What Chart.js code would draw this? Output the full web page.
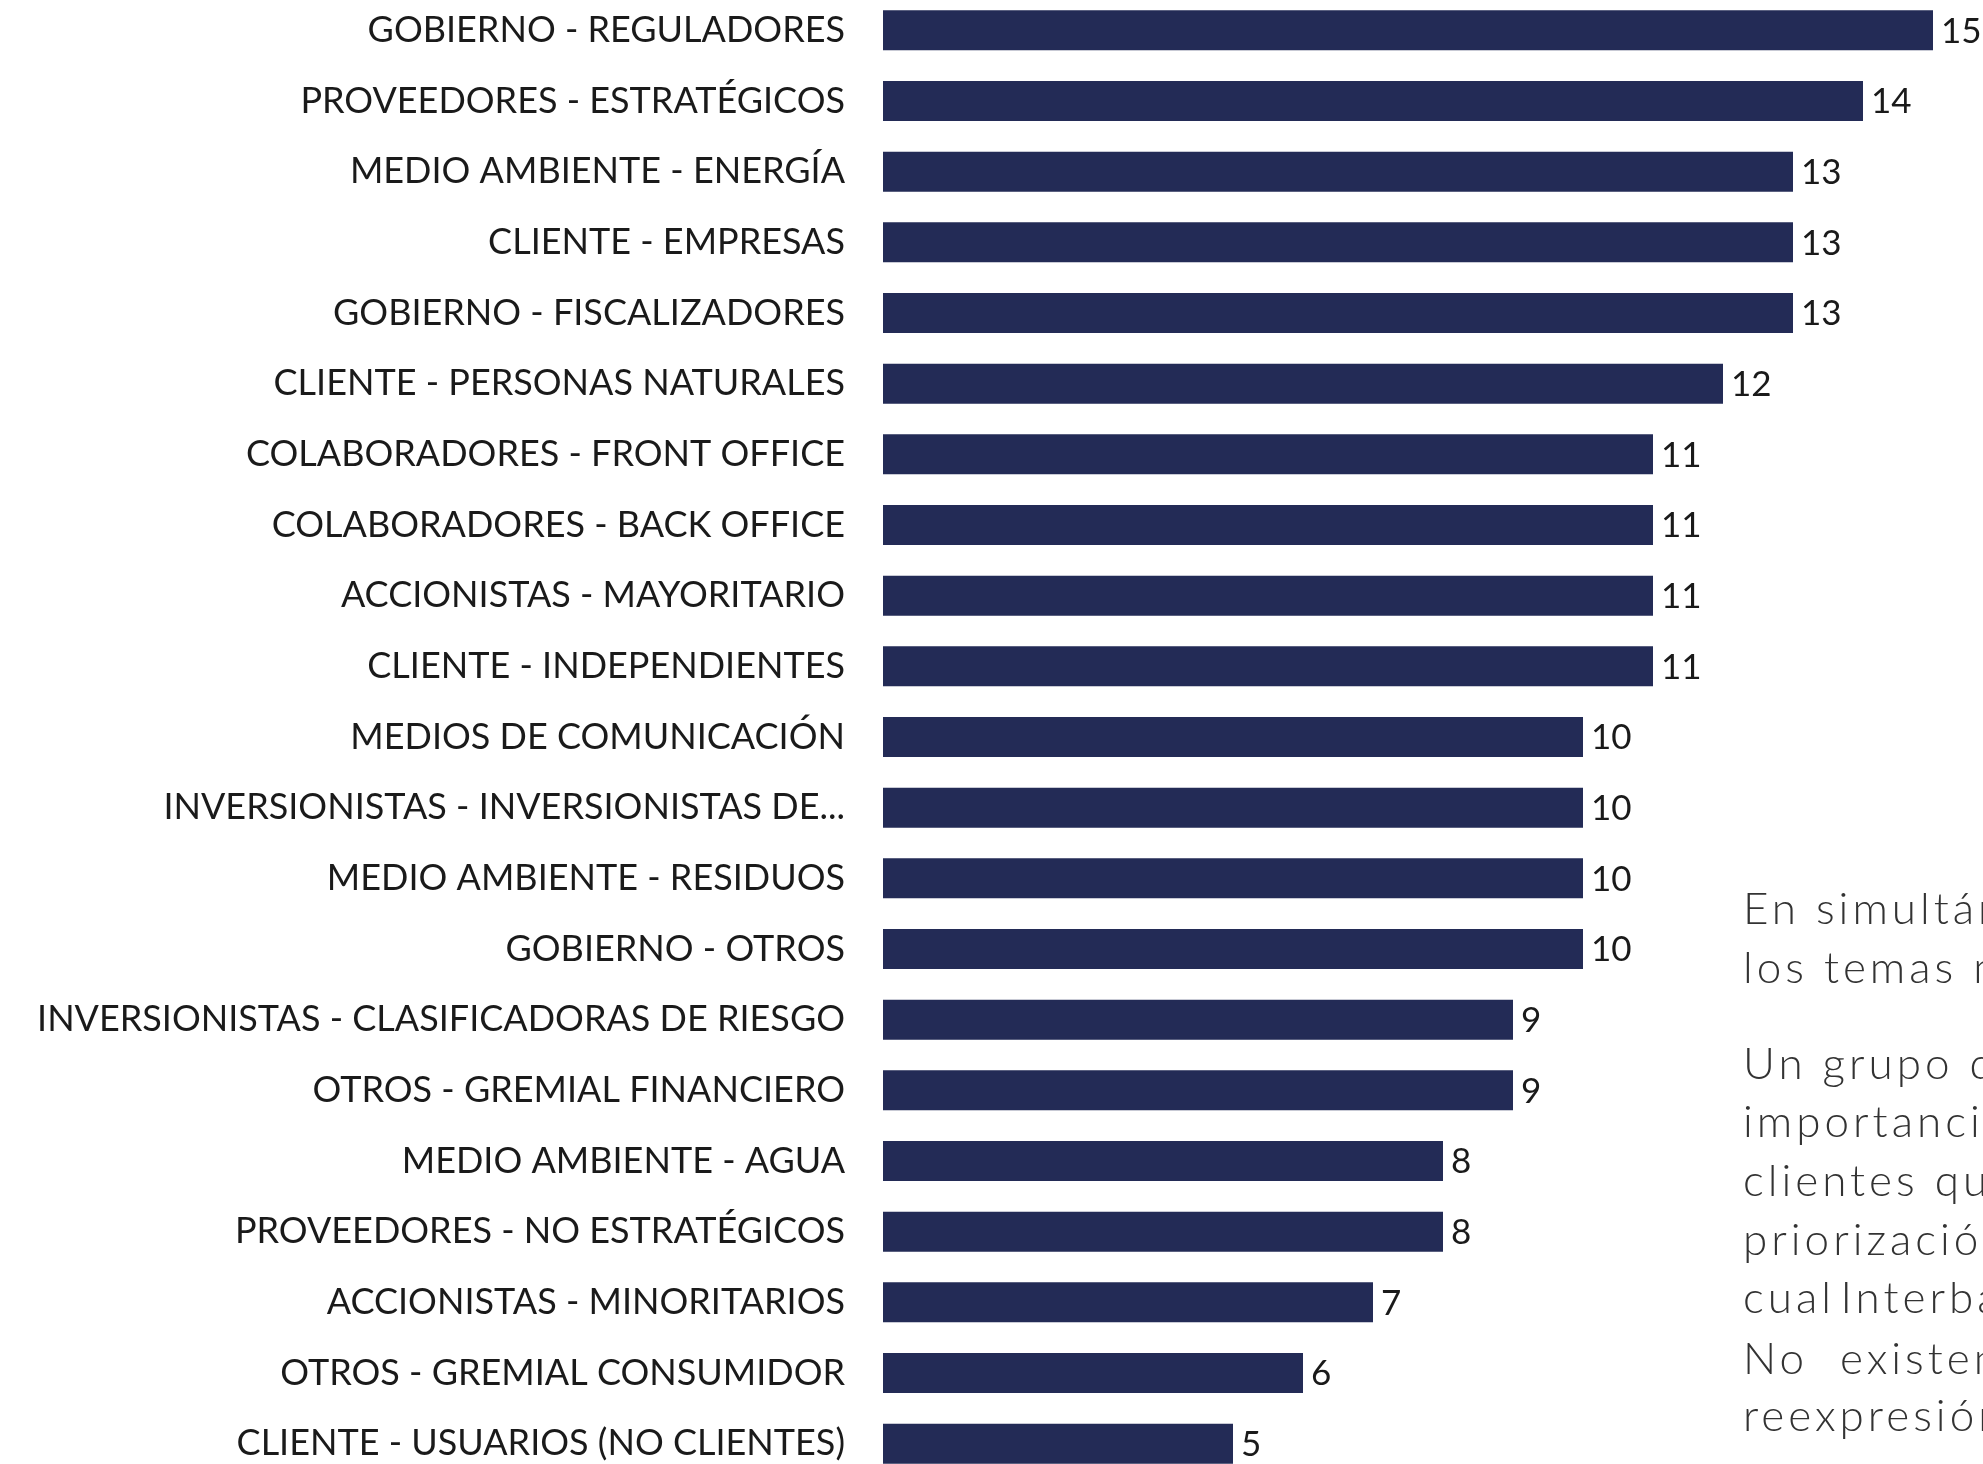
<!DOCTYPE html>
<html>
<head>
<meta charset="utf-8">
<script src="https://cdn.jsdelivr.net/npm/chart.js@4.4.1/dist/chart.umd.min.js"></script>
<style>
    html, body { margin: 0; padding: 0; background: #fff; overflow: hidden; }
    body { width: 1983px; height: 1464px; position: relative; }
    #wrap { position: absolute; left: 0; top: -5px; width: 1983px; height: 1484px; }
    #side {
        position: absolute; left: 1743px; top: 0; width: 240px; height: 1464px; overflow: hidden;
        font-family: Lato, sans-serif; font-weight: 300; font-size: 44px; letter-spacing: 4px; color: #333;
    }
    #side div { position: absolute; left: 0; white-space: nowrap; line-height: 44px; transform: translateY(-50%); }
</style>
</head>
<body>
<div id="wrap"><canvas id="stakeChart"></canvas></div>
<div id="side">
    <div style="top:907px">En simultáneo se</div>
    <div style="top:966px">los temas materiales</div>
    <div style="top:1062px">Un grupo de</div>
    <div style="top:1120px">importancia</div>
    <div style="top:1179px">clientes que</div>
    <div style="top:1238px">priorización</div>
    <div style="top:1296px" class="tight">cual<span style="letter-spacing:0">&#8201;</span>Interbank</div>
    <div style="top:1357px">No&nbsp;&nbsp;existen</div>
    <div style="top:1414px">reexpresión</div>
</div>
<script>
const categories = [
    'GOBIERNO - REGULADORES',
    'PROVEEDORES - ESTRATÉGICOS',
    'MEDIO AMBIENTE - ENERGÍA',
    'CLIENTE - EMPRESAS',
    'GOBIERNO - FISCALIZADORES',
    'CLIENTE - PERSONAS NATURALES',
    'COLABORADORES - FRONT OFFICE',
    'COLABORADORES - BACK OFFICE',
    'ACCIONISTAS - MAYORITARIO',
    'CLIENTE - INDEPENDIENTES',
    'MEDIOS DE COMUNICACIÓN',
    'INVERSIONISTAS - INVERSIONISTAS DE...',
    'MEDIO AMBIENTE - RESIDUOS',
    'GOBIERNO - OTROS',
    'INVERSIONISTAS - CLASIFICADORAS DE RIESGO',
    'OTROS - GREMIAL FINANCIERO',
    'MEDIO AMBIENTE - AGUA',
    'PROVEEDORES - NO ESTRATÉGICOS',
    'ACCIONISTAS - MINORITARIOS',
    'OTROS - GREMIAL CONSUMIDOR',
    'CLIENTE - USUARIOS (NO CLIENTES)'
]
const scores = [15, 14, 13, 13, 13, 12, 11, 11, 11, 11, 10, 10, 10, 10, 9, 9, 8, 8, 7, 6, 5]

const barColor = '#232b56'

// numbers at the end of every bar
const valueLabels = {
    id: 'valueLabels',
    afterDatasetsDraw(chart) {
        const ctx = chart.ctx
        const meta = chart.getDatasetMeta(0)
        ctx.save()
        ctx.font = '35px Lato'
        ctx.fillStyle = '#1a1a1a'
        ctx.textAlign = 'left'
        ctx.textBaseline = 'middle'
        meta.data.forEach((bar, i) => {
            ctx.fillText(chart.data.datasets[0].data[i], bar.x + 8, bar.y + 1)
        })
        ctx.restore()
    }
}

new Chart(document.getElementById('stakeChart').getContext('2d'), {
    type: 'bar',
    data: {
        labels: categories,
        datasets: [{
            data: scores,
            backgroundColor: barColor,
            borderWidth: 0,
            categoryPercentage: 1,
            barPercentage: 0.566
        }]
    },
    options: {
        indexAxis: 'y',
        responsive: true,
        maintainAspectRatio: false,
        animation: false,
        layout: { padding: { left: 0, right: 15, top: 0, bottom: 0 } },
        plugins: {
            legend: { display: false },
            tooltip: { enabled: false }
        },
        scales: {
            x: {
                display: false,
                min: 0,
                max: 15.5
            },
            y: {
                afterFit(axis) {
                    axis.width = 883
                    // tick padding should not eat the top and bottom rows
                    axis.paddingTop = 0
                    axis.paddingBottom = 0
                },
                grid: { display: false, drawTicks: false },
                border: { display: false },
                ticks: {
                    padding: 38,
                    color: '#1a1a1a',
                    font: { family: 'Lato', size: 36 }
                }
            }
        }
    },
    plugins: [valueLabels]
})
</script>
</body>
</html>
